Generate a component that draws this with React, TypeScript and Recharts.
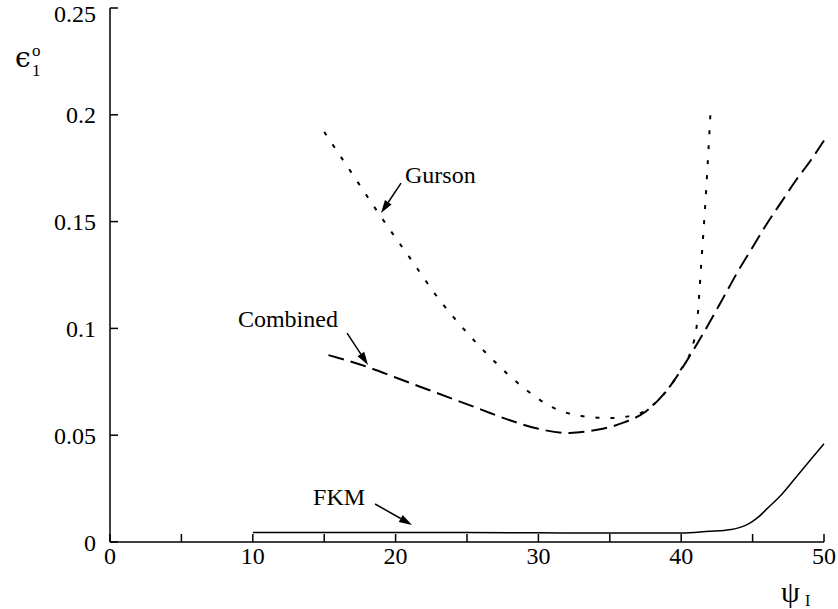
import React from 'react';
import {
  LineChart,
  Line,
  XAxis,
  YAxis,
  ReferenceLine,
  ReferenceDot,
  Label,
} from 'recharts';

// strain values
const gurson = [
  { psi: 15, eps: 0.192 },
  { psi: 17, eps: 0.172 },
  { psi: 19, eps: 0.152 },
  { psi: 21, eps: 0.133 },
  { psi: 23, eps: 0.114 },
  { psi: 25, eps: 0.098 },
  { psi: 27, eps: 0.084 },
  { psi: 29, eps: 0.072 },
  { psi: 31, eps: 0.063 },
  { psi: 33, eps: 0.059 },
  { psi: 35, eps: 0.058 },
  { psi: 37, eps: 0.06 },
  { psi: 38, eps: 0.064 },
  { psi: 39, eps: 0.071 },
  { psi: 40, eps: 0.081 },
  { psi: 40.7, eps: 0.09 },
  { psi: 41.1, eps: 0.102 },
  { psi: 41.4, eps: 0.13 },
  { psi: 41.75, eps: 0.165 },
  { psi: 42.05, eps: 0.201 },
];

const combined = [
  { psi: 15.3, eps: 0.0875 },
  { psi: 18, eps: 0.082 },
  { psi: 20, eps: 0.077 },
  { psi: 22, eps: 0.072 },
  { psi: 24, eps: 0.067 },
  { psi: 26, eps: 0.062 },
  { psi: 28, eps: 0.057 },
  { psi: 30, eps: 0.053 },
  { psi: 32, eps: 0.051 },
  { psi: 33, eps: 0.0515 },
  { psi: 34.5, eps: 0.053 },
  { psi: 36, eps: 0.056 },
  { psi: 37.5, eps: 0.061 },
  { psi: 39, eps: 0.071 },
  { psi: 40.5, eps: 0.086 },
  { psi: 42, eps: 0.103 },
  { psi: 43, eps: 0.115 },
  { psi: 44, eps: 0.127 },
  { psi: 45, eps: 0.138 },
  { psi: 46, eps: 0.149 },
  { psi: 47, eps: 0.159 },
  { psi: 48, eps: 0.169 },
  { psi: 49, eps: 0.178 },
  { psi: 50, eps: 0.188 },
];

const fkm = [
  { psi: 10, eps: 0.0045 },
  { psi: 15, eps: 0.0045 },
  { psi: 20, eps: 0.0045 },
  { psi: 25, eps: 0.0044 },
  { psi: 30, eps: 0.0043 },
  { psi: 35, eps: 0.0042 },
  { psi: 40, eps: 0.0042 },
  { psi: 42, eps: 0.005 },
  { psi: 43, eps: 0.0054 },
  { psi: 43.5, eps: 0.0058 },
  { psi: 44, eps: 0.0066 },
  { psi: 44.5, eps: 0.0078 },
  { psi: 45, eps: 0.0097 },
  { psi: 45.5, eps: 0.0122 },
  { psi: 46, eps: 0.0155 },
  { psi: 47, eps: 0.022 },
  { psi: 48, eps: 0.03 },
  { psi: 49, eps: 0.038 },
  { psi: 50, eps: 0.046 },
];

const xTicks = [0, 5, 10, 15, 20, 25, 30, 35, 40, 45, 50];
const yTicks = [0, 0.05, 0.1, 0.15, 0.2, 0.25];

// annotation labels and arrows, in data units
const notes = [
  { text: 'Gurson', x: 20.66, y: 0.168, from: [20.38, 0.168], to: [18.98, 0.154] },
  { text: 'Combined', x: 8.96, y: 0.1007, from: [16.6, 0.0978], to: [18.07, 0.0829] },
  { text: 'FKM', x: 14.22, y: 0.0173, from: [18.56, 0.0178], to: [21.15, 0.008] },
];

const FONT = '"Times New Roman", Tinos, "Liberation Serif", "DejaVu Serif", serif';

const Arrow = (props: any) => {
  const { x1, y1, x2, y2 } = props;
  const ang = Math.atan2(y2 - y1, x2 - x1);
  const len = 13;
  const half = 4;
  const bx = x2 - len * Math.cos(ang);
  const by = y2 - len * Math.sin(ang);
  const px = -Math.sin(ang) * half;
  const py = Math.cos(ang) * half;
  return (
    <g>
      <line x1={x1} y1={y1} x2={bx} y2={by} stroke="#000" strokeWidth={1.5} />
      <polygon points={`${x2},${y2} ${bx + px},${by + py} ${bx - px},${by - py}`} fill="#000" />
    </g>
  );
};

const NoteText = (text: string) => (props: any) => (
  <text x={props.cx} y={props.cy} fontSize={24} style={{ fontFamily: FONT }} fill="#000">
    {text}
  </text>
);

const YTitle = () => (
  <text x={15} y={67} style={{ fontFamily: FONT }} fill="#000">
    <tspan fontSize={28} style={{ fontFamily: '"DejaVu Serif", serif' }}>ϵ</tspan>
    <tspan fontSize={17} x={32} y={76}>1</tspan>
    <tspan fontSize={17} x={32} y={56}>o</tspan>
  </text>
);

const XTitle = () => (
  <text x={781} y={602} style={{ fontFamily: FONT }} fill="#000">
    <tspan fontSize={30}>ψ</tspan>
    <tspan fontSize={16} x={805} y={606}>I</tspan>
  </text>
);

const App: React.FC = () => {
  const axisStyle = { stroke: '#000', strokeWidth: 1.5 };
  const tickStyle = { fill: '#000', fontSize: 24, style: { fontFamily: FONT } };
  return (
    <div style={{ position: 'absolute', left: 0, top: 0, background: '#fff', fontFamily: FONT }}>
      <LineChart
        width={838}
        height={609}
        margin={{ top: 8, right: 14, left: 0, bottom: 0 }}
        style={{ fontFamily: FONT }}
      >
        <XAxis
          dataKey="psi"
          type="number"
          domain={[0, 50]}
          ticks={xTicks}
          tickFormatter={(v: number) => (v % 10 === 0 ? String(v) : '')}
          allowDuplicatedCategory={false}
          height={67}
          tickSize={-8}
          tickMargin={13}
          axisLine={axisStyle}
          tickLine={axisStyle}
          tick={tickStyle}
        >
          <Label content={XTitle} />
        </XAxis>
        <XAxis
          xAxisId="top"
          orientation="top"
          type="number"
          domain={[0, 50]}
          ticks={xTicks}
          tickFormatter={() => ''}
          height={0}
          tickSize={-8}
          axisLine={axisStyle}
          tickLine={axisStyle}
        />
        <YAxis
          type="number"
          domain={[0, 0.25]}
          ticks={yTicks}
          width={110}
          tickSize={-8}
          tickMargin={22}
          axisLine={axisStyle}
          tickLine={axisStyle}
          tick={tickStyle}
        >
          <Label content={YTitle} />
        </YAxis>
        <YAxis
          yAxisId="right"
          orientation="right"
          type="number"
          domain={[0, 0.25]}
          ticks={yTicks}
          tickFormatter={() => ''}
          width={0}
          tickSize={-8}
          axisLine={axisStyle}
          tickLine={axisStyle}
        />
        <Line
          data={gurson}
          dataKey="eps"
          type="monotone"
          stroke="#000"
          strokeWidth={2}
          strokeDasharray="4 11"
          dot={false}
          isAnimationActive={false}
        />
        <Line
          data={combined}
          dataKey="eps"
          type="monotone"
          stroke="#000"
          strokeWidth={2}
          strokeDasharray="16 7"
          dot={false}
          isAnimationActive={false}
        />
        <Line
          data={fkm}
          dataKey="eps"
          type="monotone"
          stroke="#000"
          strokeWidth={1.5}
          dot={false}
          isAnimationActive={false}
        />
        {notes.map((n) => (
          <ReferenceLine
            key={`arrow-${n.text}`}
            segment={[
              { x: n.from[0], y: n.from[1] },
              { x: n.to[0], y: n.to[1] },
            ]}
            shape={Arrow}
          />
        ))}
        {notes.map((n) => (
          <ReferenceDot
            key={`text-${n.text}`}
            x={n.x}
            y={n.y}
            r={0}
            shape={NoteText(n.text)}
          />
        ))}
      </LineChart>
    </div>
  );
};

export default App;
